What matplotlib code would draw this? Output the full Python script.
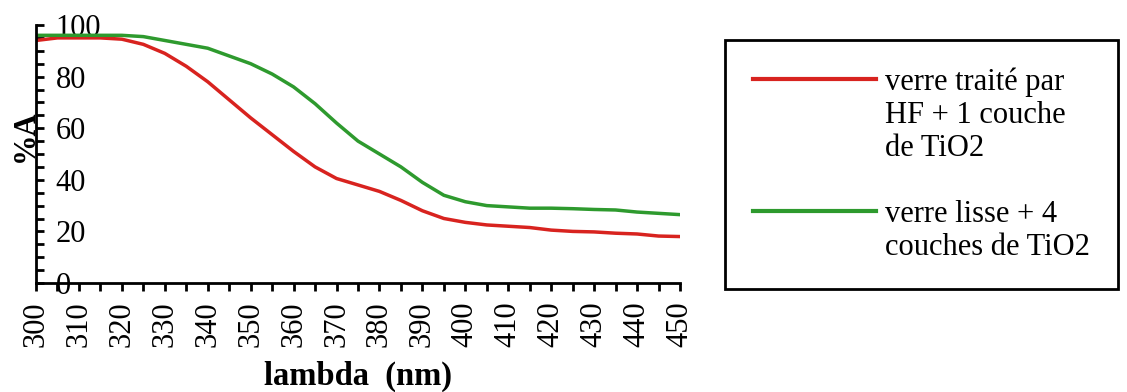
import matplotlib
matplotlib.use("Agg")
import matplotlib.pyplot as plt
from matplotlib.lines import Line2D
import numpy as np

wavelength = [300, 305, 310, 315, 320, 325, 330, 335, 340, 345, 350, 355, 360, 365, 370,
              375, 380, 385, 390, 395, 400, 405, 410, 415, 420, 425, 430, 435, 440, 445, 450]
red_hf_1tio2 = [94, 95, 95, 95, 94.5, 92.5, 89, 84, 78, 71, 64, 57.5, 51, 45, 40.5,
                38, 35.5, 32, 28, 25, 23.5, 22.5, 22, 21.5, 20.5, 20, 19.8, 19.3, 19, 18.2, 18]
green_lisse_4tio2 = [96, 96, 96, 96, 96, 95.5, 94, 92.5, 91, 88, 85, 81, 76, 69.5, 62,
                     55, 50, 45, 39, 34, 31.5, 30, 29.5, 29, 29, 28.8, 28.5, 28.3, 27.5, 27, 26.5]
x_ticks = list(range(300, 451, 10))
y_ticks = [0, 20, 40, 60, 80, 100]
label_red = "verre traité par\nHF + 1 couche\nde TiO2"
label_green = "verre lisse + 4\ncouches de TiO2"

plt.rcParams['font.family'] = ['Liberation Serif', 'DejaVu Serif']
RED = '#d8231f'
GREEN = '#2e9a2e'
FS = 22

fig = plt.figure(figsize=(11.27, 3.92), dpi=100)
ax = fig.add_axes([36/1127, 1-283/392, 644/1127, 258/392])
ax.plot(wavelength, red_hf_1tio2, color=RED, lw=2.5)
ax.plot(wavelength, green_lisse_4tio2, color=GREEN, lw=2.5)
ax.set_xlim(300, 450)
ax.set_ylim(0, 100)

for s in ['top', 'right']:
    ax.spines[s].set_visible(False)
for s in ['left', 'bottom']:
    ax.spines[s].set_linewidth(2)

ax.set_xticks(x_ticks)
ax.set_xticklabels([str(v) for v in x_ticks], rotation=90)
ax.set_xticks(np.arange(305, 450, 10), minor=True)
ax.set_yticks(y_ticks)
ax.set_yticks(np.arange(5, 100, 5), minor=True)
ax.tick_params(axis='x', which='both', direction='out', length=6, width=2, labelsize=FS, pad=7)
ax.tick_params(axis='y', which='both', direction='in', length=6, width=2, labelsize=FS, pad=-14)
for t in ax.get_yticklabels():
    t.set_horizontalalignment('left')

ax.set_ylabel('%A', fontsize=FS, fontweight='bold')
ax.yaxis.set_label_coords(0.006, 0.57)
ax.set_xlabel('lambda  (nm)', fontsize=23.5, fontweight='bold')
ax.xaxis.set_label_coords(0.5, -(376-283)/258)
ax.xaxis.label.set_verticalalignment('center')

handles = [Line2D([], [], color=RED, lw=3),
           Line2D([], [], color='none'),
           Line2D([], [], color='none'),
           Line2D([], [], color='none'),
           Line2D([], [], color=GREEN, lw=3),
           Line2D([], [], color='none')]
labels = label_red.split('\n') + [' '] + label_green.split('\n')
leg = fig.legend(handles, labels, loc='upper left', bbox_to_anchor=(725/1127, 1-40/392),
                 bbox_transform=fig.transFigure, borderaxespad=0, fontsize=FS,
                 borderpad=0.9, handlelength=4.05, handletextpad=0.3, labelspacing=0.13,
                 fancybox=False, framealpha=1, edgecolor='black')
leg.get_frame().set_linewidth(2)

fig.savefig('out.png', dpi=100)
